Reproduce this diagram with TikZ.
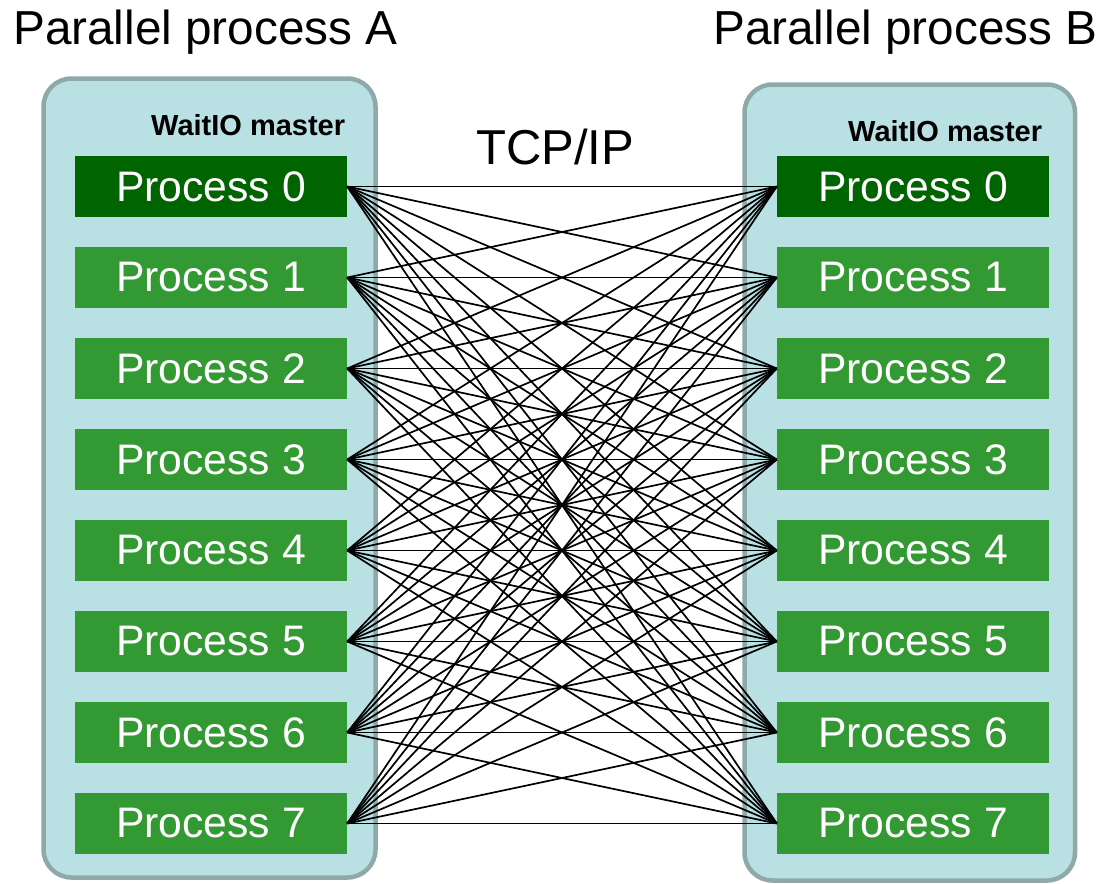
\documentclass[tikz,border=0pt]{standalone}
\usepackage{fontspec}
\setmainfont{Liberation Sans}
\definecolor{panelfill}{RGB}{185,224,227}
\definecolor{panelline}{RGB}{143,169,171}
\definecolor{masterbox}{RGB}{0,100,0}
\definecolor{workerbox}{RGB}{51,153,51}
\tikzset{
  panel/.style={draw=panelline, line width=4.5pt, fill=panelfill, rounded corners=28pt,
    inner sep=0pt, minimum width=#1},
  procbox/.style={fill=workerbox, text=white, inner sep=0pt, minimum width=272pt,
    minimum height=61pt, font=\fontsize{42.7}{48}\selectfont},
  masterproc/.style={procbox, fill=masterbox},
  heading/.style={anchor=base west, inner sep=0pt, font=\fontsize{47.7}{54}\selectfont},
  masterlabel/.style={anchor=base west, inner sep=0pt, font=\fontsize{29}{33}\selectfont\bfseries},
  link/.style={black, line width=1.7pt}
}
\begin{document}
\begin{tikzpicture}[x=1pt, y=-1pt]
  \useasboundingbox (0,0) rectangle (1096,884);

  % process groups
  \node[panel=332pt, minimum height=799pt] (panelA) at (209.5,478) {};
  \node[panel=330.5pt, minimum height=796pt] (panelB) at (909.75,482.5) {};

  % titles
  \node[heading] (titleA) at (13,44) {Parallel process A};
  \node[heading] (titleB) at (713,44) {Parallel process B};
  \node[heading, font=\fontsize{49}{55}\selectfont] (tcp) at (476,164) {TCP/IP};

  \node[masterlabel] (masterA) at (151,135) {WaitIO master};
  \node[masterlabel] (masterB) at (848,141) {WaitIO master};

  % processes
  \foreach \i in {0,...,7} {
    \ifnum\i=0
      \node[masterproc] (a\i) at (211,{186.5+91*\i}) {Process \i};
      \node[masterproc] (b\i) at (913,{186.5+91*\i}) {Process \i};
    \else
      \node[procbox] (a\i) at (211,{186.5+91*\i}) {Process \i};
      \node[procbox] (b\i) at (913,{186.5+91*\i}) {Process \i};
    \fi
  }

  % all-to-all connections
  \foreach \i in {0,...,7} {
    \foreach \j in {0,...,7} {
      \draw[link] (a\i.east) -- (b\j.west);
    }
  }
\end{tikzpicture}
\end{document}
